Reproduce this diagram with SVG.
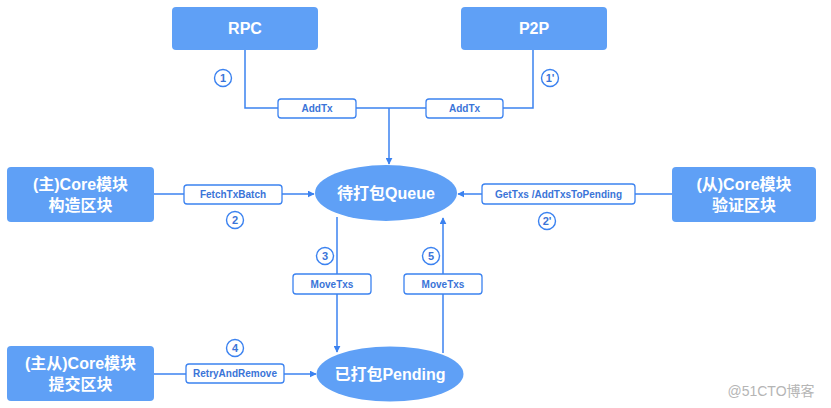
<svg xmlns="http://www.w3.org/2000/svg" width="831" height="408" viewBox="0 0 831 408">
<defs>
<style>
.box{fill:#5fa0f6;}
.nt{fill:#fff;font-family:"Liberation Sans","Noto Sans CJK SC",sans-serif;font-weight:bold;font-size:16px;text-anchor:middle;}
.ln{stroke:#3b82f0;stroke-width:1.5;fill:none;}
.lb{fill:#fff;stroke:#3b82f0;stroke-width:1.3;}
.lt{fill:#3a74d8;font-family:"Liberation Sans",sans-serif;font-weight:bold;font-size:10px;text-anchor:middle;}
.cc{fill:#fff;stroke:#3b82f0;stroke-width:1.4;}
.ct{fill:#3a74d8;font-family:"Liberation Sans",sans-serif;font-weight:bold;font-size:11px;text-anchor:middle;}
</style>
<marker id="ar" viewBox="0 0 10 10" refX="9" refY="5" markerWidth="7" markerHeight="7" orient="auto" markerUnits="userSpaceOnUse">
<path d="M0,0 L10,5 L0,10 Z" fill="#3b82f0"/>
</marker>
</defs>
<rect width="831" height="408" fill="#fff"/>
<g id="connectors">
<path class="ln" d="M245,50 V108 H533 V50"/>
<path class="ln" d="M389,108 V164" marker-end="url(#ar)"/>
<path class="ln" d="M154,194 H314" marker-end="url(#ar)"/>
<path class="ln" d="M672,194 H458" marker-end="url(#ar)"/>
<path class="ln" d="M337,217 V352" marker-end="url(#ar)"/>
<path class="ln" d="M443,353 V218" marker-end="url(#ar)"/>
<path class="ln" d="M154,374 H316" marker-end="url(#ar)"/>
<rect class="lb" x="278" y="99" width="78" height="19" rx="3"/>
<text class="lt" x="317" y="112">AddTx</text>
<rect class="lb" x="426" y="99" width="77" height="19" rx="3"/>
<text class="lt" x="464.5" y="112">AddTx</text>
<rect class="lb" x="184" y="185" width="98" height="19" rx="3"/>
<text class="lt" x="233" y="198">FetchTxBatch</text>
<rect class="lb" x="482" y="184" width="153" height="20" rx="3"/>
<text class="lt" x="558.5" y="198">GetTxs /AddTxsToPending</text>
<rect class="lb" x="293" y="274" width="78" height="20" rx="3"/>
<text class="lt" x="332" y="288">MoveTxs</text>
<rect class="lb" x="404" y="274" width="78" height="20" rx="3"/>
<text class="lt" x="443" y="288">MoveTxs</text>
<rect class="lb" x="186" y="364" width="98" height="19" rx="3"/>
<text class="lt" x="235" y="377">RetryAndRemove</text>
<circle class="cc" cx="223" cy="78" r="8.5"/><text class="ct" x="223" y="82">1</text>
<circle class="cc" cx="550" cy="78" r="8.5"/><text class="ct" x="550" y="82">1'</text>
<circle class="cc" cx="235" cy="220" r="8.5"/><text class="ct" x="235" y="224">2</text>
<circle class="cc" cx="547" cy="221" r="8.5"/><text class="ct" x="547" y="225">2'</text>
<circle class="cc" cx="325" cy="256" r="8.5"/><text class="ct" x="325" y="260">3</text>
<circle class="cc" cx="431" cy="256" r="8.5"/><text class="ct" x="431" y="260">5</text>
<circle class="cc" cx="235" cy="348" r="8.5"/><text class="ct" x="235" y="352">4</text>
</g>
<g id="rpc"><rect class="box" x="172" y="7" width="146" height="43" rx="4"/><text class="nt" x="245" y="34">RPC</text></g>
<g id="p2p"><rect class="box" x="461" y="7" width="146" height="43" rx="4"/><text class="nt" x="534" y="34">P2P</text></g>
<g id="core-main"><rect class="box" x="7" y="167" width="147" height="55" rx="4"/><text class="nt" x="80.5" y="190">(主)Core模块</text><text class="nt" x="80.5" y="211">构造区块</text></g>
<g id="core-sub"><rect class="box" x="672" y="167" width="144" height="55" rx="4"/><text class="nt" x="744" y="190">(从)Core模块</text><text class="nt" x="744" y="211">验证区块</text></g>
<g id="core-both"><rect class="box" x="7" y="346" width="147" height="55" rx="4"/><text class="nt" x="80.5" y="369">(主从)Core模块</text><text class="nt" x="80.5" y="390">提交区块</text></g>
<g id="queue"><ellipse class="box" cx="386" cy="193" rx="71" ry="28"/><text class="nt" x="386" y="199">待打包Queue</text></g>
<g id="pending"><ellipse class="box" cx="390" cy="374" rx="73.5" ry="27.5"/><text class="nt" x="390" y="380">已打包Pending</text></g>
<text x="771" y="396" fill="#b5b5b5" font-family="'Liberation Sans','Noto Sans CJK SC',sans-serif" font-size="14" text-anchor="middle">@51CTO博客</text>
</svg>
